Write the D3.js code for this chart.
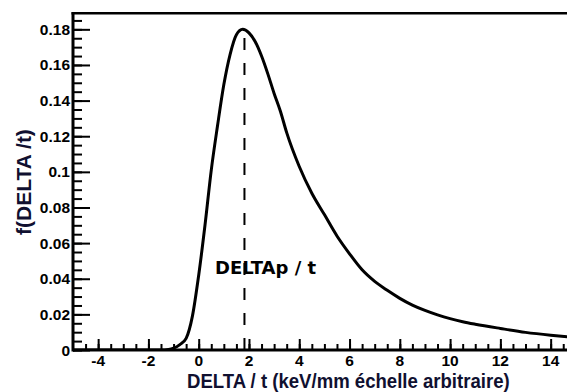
<!DOCTYPE html>
<html>
<head>
<meta charset="utf-8">
<script src="https://cdn.jsdelivr.net/npm/d3@7"></script>
<style>
  html, body { margin: 0; padding: 0; background: #fff; }
  svg { display: block; }
</style>
</head>
<body>
<svg id="chart" width="567" height="392"></svg>
<script>
// ---- data ----
const deltaValues = [-5, -1.5, -1.2, -1.0, -0.75, -0.5, -0.25, 0, 0.25, 0.5, 0.75, 1.0, 1.25, 1.5, 1.75, 2.0, 2.25, 2.5, 2.75, 3.0, 3.25, 3.5, 4.0, 4.5, 5.0, 5.5, 6.0, 6.5, 7.0, 7.5, 8.0, 8.5, 9.0, 9.5, 10, 10.5, 11, 12, 13, 14, 14.7];
const densityValues = [0, 0, 0.0003, 0.001, 0.003, 0.0065, 0.019, 0.042, 0.070, 0.101, 0.126, 0.149, 0.166, 0.177, 0.180, 0.178, 0.173, 0.165, 0.155, 0.144, 0.134, 0.122, 0.103, 0.088, 0.076, 0.064, 0.054, 0.045, 0.0385, 0.0335, 0.029, 0.0252, 0.0222, 0.0197, 0.0176, 0.0159, 0.0145, 0.0121, 0.0099, 0.0083, 0.0074];
const xTickValues = [-4, -2, 0, 2, 4, 6, 8, 10, 12, 14];
const xTickLabels = ["-4", "-2", "0", "2", "4", "6", "8", "10", "12", "14"];
const yTickValues = [0, 0.02, 0.04, 0.06, 0.08, 0.1, 0.12, 0.14, 0.16, 0.18];
const yTickLabels = ["0", "0.02", "0.04", "0.06", "0.08", "0.1", "0.12", "0.14", "0.16", "0.18"];
const peakX = 1.82;
const peakY = 0.180;
const xTitle = "DELTA / t (keV/mm échelle arbitraire)";
const yTitle = "f(DELTA /t)";
const peakLabel = "DELTAp / t";

// ---- layout ----
const svg = d3.select("#chart");
const plotLeft = 73, plotBottom = 350, plotTop = 13.3;
const x = d3.scaleLinear().domain([-5, 15]).range([plotLeft, plotLeft + 20 * 25.14]);
const y = d3.scaleLinear().domain([0, 0.189]).range([plotBottom, plotTop]);

svg.append("defs").append("clipPath").attr("id", "plotclip")
  .append("rect").attr("x", plotLeft).attr("y", plotTop).attr("width", 567 - plotLeft).attr("height", plotBottom - plotTop);

const data = deltaValues.map((d, i) => ({x: d, y: densityValues[i]}));

// dashed peak line
svg.append("line")
  .attr("x1", x(peakX)).attr("x2", x(peakX))
  .attr("y1", y(0)).attr("y2", y(peakY))
  .attr("stroke", "#000").attr("stroke-width", 2)
  .attr("stroke-dasharray", "12,13");

// curve
svg.append("path")
  .datum(data)
  .attr("clip-path", "url(#plotclip)")
  .attr("fill", "none")
  .attr("stroke", "#000")
  .attr("stroke-width", 3)
  .attr("stroke-linejoin", "round")
  .attr("d", d3.line().x(d => x(d.x)).y(d => y(d.y)).curve(d3.curveMonotoneX));

// axes (ticks inside)
const xMinor = d3.range(-5, 15.01, 0.5).filter(v => x(v) > plotLeft + 1);
const yMinor = d3.range(0, 0.1891, 0.005);

const xAxis = d3.axisTop(x).tickValues(xTickValues).tickSize(11).tickFormat(() => "");
const xAxisMinor = d3.axisTop(x).tickValues(xMinor).tickSize(6).tickFormat(() => "");
const yAxis = d3.axisRight(y).tickValues(yTickValues).tickSize(17).tickFormat(() => "");
const yAxisMinor = d3.axisRight(y).tickValues(yMinor).tickSize(9).tickFormat(() => "");

function styleAxis(g) {
  g.select(".domain").remove();
  g.selectAll(".tick line").attr("stroke", "#000").attr("stroke-width", 2);
}
svg.append("g").attr("transform", `translate(0,${plotBottom})`).call(xAxisMinor).call(styleAxis);
svg.append("g").attr("transform", `translate(0,${plotBottom})`).call(xAxis).call(styleAxis);
svg.append("g").attr("transform", `translate(${plotLeft},0)`).call(yAxisMinor).call(styleAxis);
svg.append("g").attr("transform", `translate(${plotLeft},0)`).call(yAxis).call(styleAxis);

// frame lines
svg.append("line").attr("x1", plotLeft).attr("x2", 567).attr("y1", plotBottom).attr("y2", plotBottom)
  .attr("stroke", "#000").attr("stroke-width", 3);
svg.append("line").attr("x1", plotLeft).attr("x2", plotLeft).attr("y1", plotTop - 1).attr("y2", plotBottom + 1.5)
  .attr("stroke", "#000").attr("stroke-width", 3);
svg.append("line").attr("x1", plotLeft - 1.5).attr("x2", 567).attr("y1", plotTop).attr("y2", plotTop)
  .attr("stroke", "#000").attr("stroke-width", 2.5);

// tick labels
const font = "'Liberation Sans', Arial, sans-serif";
svg.append("g").selectAll("text").data(xTickValues).join("text")
  .attr("x", d => x(d)).attr("y", 365.5)
  .attr("text-anchor", "middle")
  .attr("font-family", font).attr("font-weight", "bold").attr("font-size", 15.5)
  .attr("fill", "#000")
  .text((d, i) => xTickLabels[i]);

svg.append("g").selectAll("text").data(yTickValues).join("text")
  .attr("x", 70).attr("y", d => y(d) + 5.5)
  .attr("text-anchor", "end")
  .attr("font-family", font).attr("font-weight", "bold").attr("font-size", 15.5)
  .attr("fill", "#000")
  .text((d, i) => yTickLabels[i]);

// titles
svg.append("text")
  .attr("transform", "translate(187,388) scale(0.885,1)")
  .attr("font-family", font).attr("font-weight", "bold").attr("font-size", 21)
  .attr("fill", "#101030")
  .text(xTitle);

svg.append("text")
  .attr("transform", "translate(31,182) rotate(-90)")
  .attr("text-anchor", "middle")
  .attr("font-family", font).attr("font-weight", "bold").attr("font-size", 21)
  .attr("fill", "#101030")
  .text(yTitle);

svg.append("text")
  .attr("x", 215).attr("y", 274)
  .attr("font-family", "'DejaVu Sans', sans-serif").attr("font-weight", "bold").attr("font-size", 18)
  .attr("fill", "#000")
  .text(peakLabel);
</script>
</body>
</html>
